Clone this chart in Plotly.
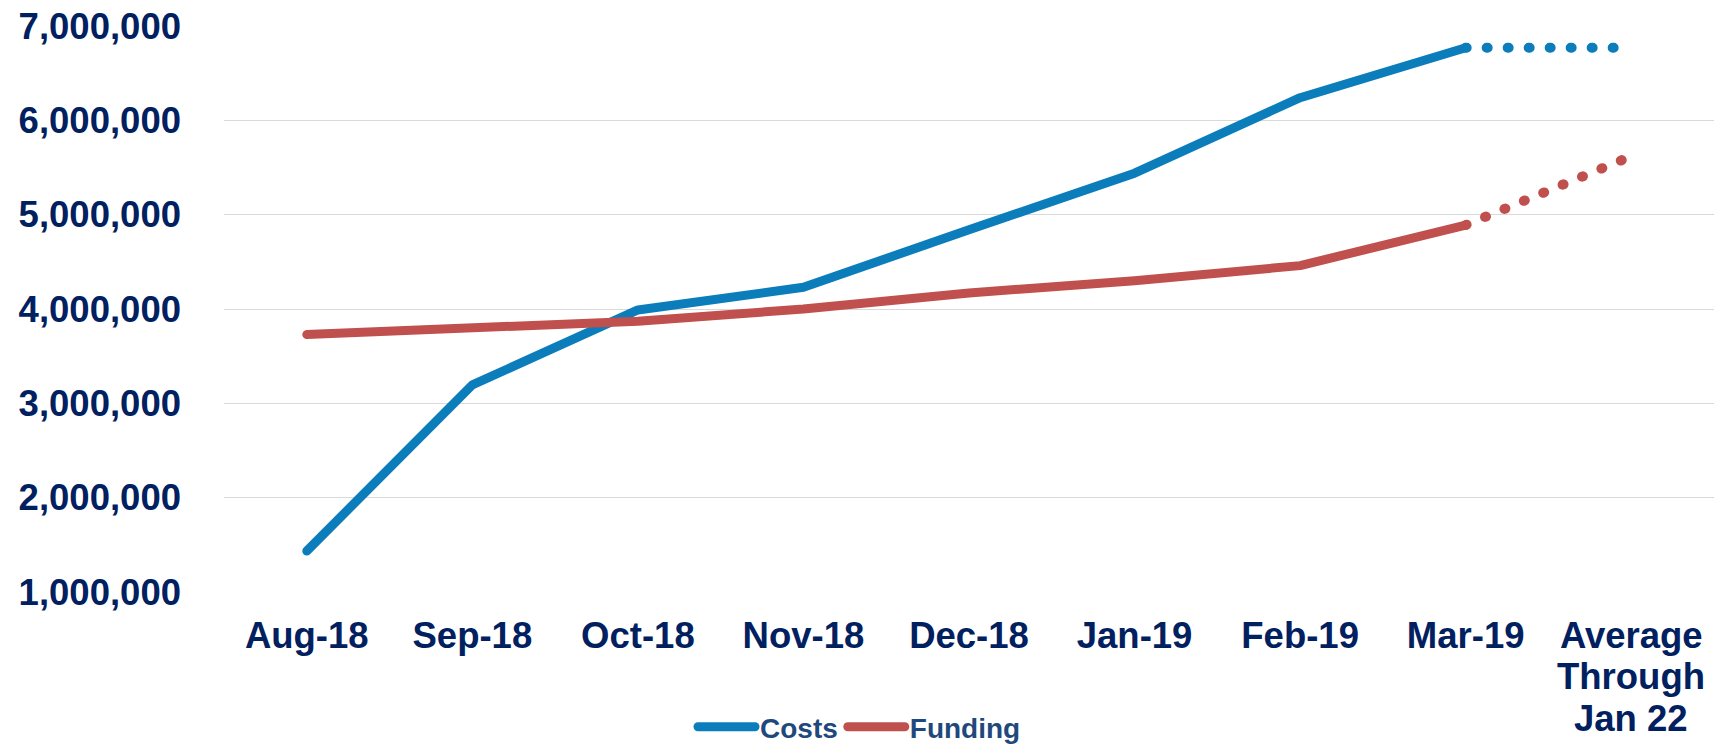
import plotly.graph_objects as go

categories = ["Aug-18", "Sep-18", "Oct-18", "Nov-18", "Dec-18", "Jan-19", "Feb-19", "Mar-19", "Average"]
tick_text = ["Aug-18", "Sep-18", "Oct-18", "Nov-18", "Dec-18", "Jan-19", "Feb-19", "Mar-19", "Average"]
extra_label_lines = ["Through", "Jan 22"]
costs = [1435000, 3195000, 3990000, 4230000, 4840000, 5440000, 6240000, 6770000, 6770000]
funding = [3730000, 3800000, 3870000, 4000000, 4170000, 4300000, 4460000, 4890000, 5620000]
y_ticks = [1000000, 2000000, 3000000, 4000000, 5000000, 6000000, 7000000]

BLUE = "#0B7DBB"
RED = "#C0504D"
NAVY = "#002060"
LEGEND_NAVY = "#1F497D"
FONT = "Arial, Liberation Sans, sans-serif"

fig = go.Figure()
fig.add_trace(go.Scatter(x=categories[:8], y=costs[:8], mode="lines", name="Costs",
                         line=dict(color=BLUE, width=9)))
fig.add_trace(go.Scatter(x=categories[:8], y=funding[:8], mode="lines", name="Funding",
                         line=dict(color=RED, width=9)))
fig.add_trace(go.Scatter(x=categories[7:], y=costs[7:], mode="lines", showlegend=False,
                         line=dict(color=BLUE, width=10, dash="1px,20px")))
fig.add_trace(go.Scatter(x=categories[7:], y=funding[7:], mode="lines", showlegend=False,
                         line=dict(color=RED, width=10, dash="1px,20px")))

for i, t in enumerate(extra_label_lines):
    fig.add_annotation(x=categories[8], xref="x", y=0, yref="paper", text="<b>%s</b>" % t,
                       showarrow=False, yanchor="middle", yshift=-84 - 42 * i,
                       font=dict(family=FONT, size=36.5, color=NAVY))

fig.update_layout(
    width=1719, height=744,
    margin=dict(l=224, r=5, t=26, b=152, autoexpand=False),
    paper_bgcolor="white", plot_bgcolor="white",
    font=dict(family=FONT, color=NAVY),
    showlegend=True,
    legend=dict(orientation="h", xref="container", yref="container", x=0.5, y=1 - 727 / 744,
                xanchor="center", yanchor="middle",
                font=dict(family=FONT, size=28, color=LEGEND_NAVY, weight="bold"),
                itemwidth=57, tracegroupgap=0),
    xaxis=dict(type="category", categoryorder="array", categoryarray=categories,
               tickvals=categories, ticktext=tick_text, range=[-0.5, 8.5],
               showgrid=False, showline=False, zeroline=False, ticks="",
               ticklabelstandoff=18,
               tickfont=dict(family=FONT, size=36.5, color=NAVY, weight="bold")),
    yaxis=dict(range=[1000000, 7000000], tickvals=y_ticks, tickformat=",d",
               showgrid=True, gridcolor="#D9D9D9", gridwidth=1.3, zeroline=False,
               showline=False, ticks="", ticklabelstandoff=42,
               tickfont=dict(family=FONT, size=36.5, color=NAVY, weight="bold")),
)

post = """
document.body.style.margin = '0';
document.body.style.overflow = 'hidden';
var gd = document.getElementById('{plot_id}');
gd.querySelectorAll('path.js-line, .legendlines path').forEach(function(p){
  p.style.strokeLinecap = 'round';
  p.style.strokeLinejoin = 'round';
});
"""
fig.write_html("out.html", post_script=post, config={"displayModeBar": False})
